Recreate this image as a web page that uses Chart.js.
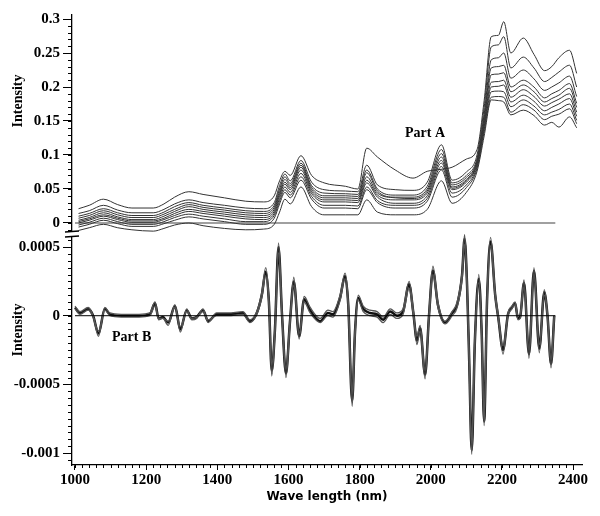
<!DOCTYPE html>
<html>
<head>
<meta charset="utf-8">
<script src="https://cdn.jsdelivr.net/npm/chart.js@4"></script>
<style>
  body { margin: 0; background: #fff; }
</style>
</head>
<body>
<canvas id="c" width="600" height="516"></canvas>
<script>
// tick positions
var xTicks = [1000, 1200, 1400, 1600, 1800, 2000, 2200, 2400];
var yATicks = [0, 0.05, 0.1, 0.15, 0.2, 0.25, 0.3];
var yBTicks = [-0.001, -0.0005, 0, 0.0005];

// Part A: raw spectra (10 samples)
var wlA = [1010,1040,1080,1120,1160,1220,1250,1280,1320,1360,
           1420,1480,1530,1560,1575,1590,1605,1635,1665,1700,
           1760,1795,1820,1850,1900,1950,1990,2030,2060,2100,
           2130,2150,2170,2190,2205,2225,2260,2290,2320,2340,
           2360,2390,2410];
var a1 = [.021,.026,.035,.027,.022,.022,.028,.038,.046,.042, .037,.032,.031,.040,.062,.076,.070,.099,.070,.059,
          .054,.050,.110,.097,.078,.066,.076,.079,.082,.094, .108,.180,.274,.276,.296,.250,.272,.248,.224,.230, .243,.254,.220];
var a2 = [.014,.018,.026,.019,.015,.015,.020,.028,.034,.030, .026,.022,.021,.030,.055,.072,.062,.092,.060,.049,
          .047,.046,.085,.056,.049,.048,.060,.115,.063,.075, .100,.170,.259,.262,.274,.228,.244,.228,.208,.214, .222,.232,.200];
var a3 = [.010,.014,.021,.015,.011,.011,.016,.024,.030,.026, .022,.018,.017,.026,.050,.068,.058,.088,.055,.044,
          .043,.042,.078,.050,.041,.041,.054,.108,.059,.070, .095,.160,.240,.243,.250,.213,.225,.212,.195,.200, .206,.216,.186];
var a4 = [.007,.011,.018,.012,.008,.008,.013,.020,.027,.023, .019,.015,.014,.023,.046,.064,.055,.085,.052,.040,
          .040,.039,.074,.047,.038,.038,.050,.102,.056,.067, .092,.155,.228,.230,.232,.200,.210,.200,.184,.190, .195,.205,.176];
var a5 = [.004,.008,.015,.009,.005,.005,.010,.017,.024,.020, .016,.012,.011,.020,.043,.060,.052,.082,.049,.037,
          .037,.036,.068,.044,.037,.036,.047,.097,.053,.064, .090,.150,.218,.219,.221,.193,.203,.193,.178,.183, .188,.198,.170];
var a6 = [.002,.006,.012,.007,.003,.003,.007,.014,.020,.017, .013,.009,.008,.017,.040,.057,.049,.078,.046,.034,
          .034,.033,.063,.041,.034,.034,.044,.092,.051,.062, .088,.146,.207,.208,.210,.185,.196,.186,.172,.177, .182,.190,.163];
var a7 = [.000,.004,.010,.005,.001,.001,.005,.011,.017,.014, .010,.006,.005,.014,.036,.053,.045,.073,.043,.031,
          .031,.030,.059,.038,.029,.029,.040,.088,.049,.060, .086,.142,.200,.201,.203,.178,.188,.179,.165,.170, .175,.183,.157];
var a8 = [-.003,.001,.007,.002,-.002,-.002,.002,.008,.013,.010, .006,.002,.002,.011,.032,.049,.041,.068,.039,.026,
          .026,.025,.053,.033,.026,.026,.036,.083,.044,.056, .083,.138,.193,.194,.193,.171,.181,.172,.159,.163, .167,.175,.151];
var a9 = [-.006,-.002,.004,-.001,-.005,-.005,-.001,.004,.009,.006, .002,-.002,-.002,.007,.028,.045,.037,.063,.035,.022,
          .022,.021,.049,.030,.022,.022,.032,.078,.038,.052, .080,.134,.185,.186,.185,.163,.174,.166,.152,.157, .160,.168,.146];
var a10 = [-.011,-.007,-.002,-.007,-.010,-.012,-.008,-.003,.000,-.004, -.008,-.010,-.009,-.002,.016,.035,.028,.053,.024,.012,
           .012,.012,.034,.016,.012,.012,.020,.062,.029,.045, .076,.128,.181,.180,.178,.159,.166,.158,.144,.148, .141,.156,.140];
var seriesA = [a1,a2,a3,a4,a5,a6,a7,a8,a9,a10];

// Part B: second derivative spectra
var wlB = [1000,1014,1037,1051,1066,1084,1098,1130,1180,1210,
           1225,1235,1247,1262,1281,1296,1314,1328,1342,1360,
           1374,1398,1430,1472,1492,1511,1525,1536,1545,1553,
           1562,1572,1582,1593,1604,1615,1630,1644,1661,1689,
           1711,1725,1745,1759,1768,1779,1787,1796,1810,1829,
           1849,1866,1886,1905,1922,1939,1951,1961,1970,1984,
           1995,2006,2020,2040,2060,2074,2088,2095,2102,2108,
           2115,2124,2135,2143,2150,2158,2168,2181,2190,2203,
           2217,2228,2237,2245,2251,2262,2276,2290,2305,2319,
           2328,2338,2347];
var b1 = [0.00006,0.00002,0.00005,0,-0.00013,0.00005,0.00001,0,0,0.00001,
          0.00009,-0.00002,-0.00001,-0.00005,0.00007,-0.0001,0.00004,-0.00002,-0.00001,0.00004,
          -0.00004,0.00001,0.00001,0.00002,-0.00004,0.00002,0.00015,0.00032,0.0001,-0.0004,
          -0.0001,0.0005,0,-0.00042,-0.00005,0.00025,-0.00015,0.00012,0.00004,-0.00004,
          0.00002,0.00001,0.00013,0.00029,0.00008,-0.00062,-0.00012,0.00013,0.00005,0.00002,
          0.00001,-0.00003,0.00003,0,0.00003,0.00023,0.00002,-0.00018,-0.00009,-0.00043,
          0,0.00033,0.00008,-0.00005,0.00002,0.00008,0.0003,0.00056,0.00022,-0.00033,
          -0.00098,-0.00018,0.00027,-0.00012,-0.00077,0.0001,0.00054,0.00015,-0.00002,-0.00025,
          0.00001,0.00006,0.00009,-0.00002,-0.00001,0.00024,-0.00028,0.00033,-0.00024,0.00017,
          0,-0.00035,0];
var b2 = [0.00007,0.00003,0.00006,0,-0.00015,0.00006,0.00002,0.00001,0.00001,0.00002,
          0.0001,-0.00003,-0.00002,-0.00007,0.00008,-0.00012,0.00005,-0.00003,-0.00002,0.00005,
          -0.00005,0.00002,0.00002,0.00003,-0.00003,0.00003,0.00017,0.00035,0.00012,-0.00044,
          -0.00012,0.00053,0.00002,-0.00045,-0.00007,0.00028,-0.00017,0.00014,0.00006,-0.00002,
          0.00004,0.00003,0.00015,0.00031,0.0001,-0.00066,-0.00015,0.00015,0.00007,0.00004,
          0.00003,-0.00001,0.00005,0.00002,0.00005,0.00025,0.00004,-0.00021,-0.00011,-0.00046,
          0.00002,0.00036,0.0001,-0.00004,0.00003,0.0001,0.00032,0.00059,0.00025,-0.00036,
          -0.00101,-0.00021,0.0003,-0.00015,-0.0008,0.00012,0.00057,0.00017,0,-0.00028,
          0.00002,0.00007,0.0001,0,0.00001,0.00026,-0.00031,0.00035,-0.00027,0.00019,
          0.00001,-0.00038,0];
var b3 = [0.00005,0.00001,0.00004,-0.00001,-0.00011,0.00004,0,-0.00001,-0.00001,0,
          0.00007,-0.00002,-0.00002,-0.00004,0.00006,-0.00008,0.00003,-0.00002,-0.00001,0.00003,
          -0.00003,0,0,0.00001,-0.00005,0.00001,0.00013,0.00029,0.00008,-0.00036,
          -0.00009,0.00046,-0.00002,-0.00039,-0.00004,0.00022,-0.00013,0.0001,0.00002,-0.00005,
          0,-0.00001,0.00011,0.00027,0.00006,-0.00057,-0.0001,0.00011,0.00003,0,
          -0.00001,-0.00005,0.00001,-0.00002,0.00001,0.0002,0,-0.00015,-0.00007,-0.0004,
          -0.00002,0.0003,0.00006,-0.00006,0,0.00006,0.00027,0.00052,0.00019,-0.0003,
          -0.00093,-0.00015,0.00024,-0.0001,-0.00073,0.00008,0.00051,0.00013,-0.00003,-0.00022,
          0,0.00005,0.00008,-0.00003,-0.00002,0.00021,-0.00025,0.0003,-0.00021,0.00015,
          -0.00001,-0.00032,0];

var baseline = [1000, 2350];

function pts(xs, ys) {
  return xs.map(function (x, i) { return {x: x, y: ys[i]}; });
}
function fixTicks(list) {
  return function (s) { s.ticks = list.map(function (v) { return {value: v}; }); };
}

var datasets = [];
seriesA.forEach(function (s) {
  datasets.push({data: pts(wlA, s), yAxisID: 'yA', borderColor: '#333', borderWidth: 1});
});
datasets.push({data: pts(baseline, [0, 0]), yAxisID: 'yA', borderColor: '#808080', borderWidth: 1.5});
datasets.push({data: pts(wlB, b2), yAxisID: 'yB', borderColor: '#555', borderWidth: 1.3});
datasets.push({data: pts(wlB, b3), yAxisID: 'yB', borderColor: '#555', borderWidth: 1.3});
datasets.push({data: pts(wlB, b1), yAxisID: 'yB', borderColor: '#111', borderWidth: 2.5});
datasets.push({data: pts(baseline, [0, 0]), yAxisID: 'yB', borderColor: '#000', borderWidth: 1, order: -1});

var tickFont = {family: 'Liberation Serif', weight: 'bold', size: 15};

var extras = {
  id: 'extras',
  afterDraw: function (chart) {
    var c = chart.ctx;
    var x = chart.scales.x, ya = chart.scales.yA, yb = chart.scales.yB;
    var ax = ya.right;
    c.save();
    c.strokeStyle = '#000';
    c.lineWidth = 1;
    // minor ticks
    var i, p;
    for (i = 0; i <= 70; i++) {
      p = Math.round(x.getPixelForValue(1000 + i * 20)) + 0.5;
      c.beginPath(); c.moveTo(p, x.top); c.lineTo(p, x.top + 3); c.stroke();
    }
    for (i = -1; i <= 30; i++) {
      p = Math.round(ya.getPixelForValue(i * 0.01)) + 0.5;
      c.beginPath(); c.moveTo(ax - 4, p); c.lineTo(ax, p); c.stroke();
    }
    for (i = -21; i <= 11; i++) {
      p = Math.round(yb.getPixelForValue(i * 0.00005)) + 0.5;
      c.beginPath(); c.moveTo(ax - 4, p); c.lineTo(ax, p); c.stroke();
    }
    // axis break
    var b = ya.bottom;
    c.fillStyle = '#fff';
    c.fillRect(ax - 3, b - 2, 6, 5);
    c.lineWidth = 1.3;
    c.beginPath();
    c.moveTo(ax - 7, b - 2); c.lineTo(ax + 7, b - 3);
    c.moveTo(ax - 7, b + 3); c.lineTo(ax + 7, b + 2);
    c.stroke();
    // texts
    c.fillStyle = '#000';
    c.font = 'bold 14px "Liberation Serif"';
    c.textBaseline = 'middle';
    c.textAlign = 'left';
    c.fillText('Part A', 405, 133);
    c.fillText('Part B', 112, 337);
    c.textAlign = 'center';
    c.translate(18, 101);
    c.rotate(-Math.PI / 2);
    c.fillText('Intensity', 0, 0);
    c.rotate(Math.PI / 2);
    c.translate(0, 229);
    c.rotate(-Math.PI / 2);
    c.fillText('Intensity', 0, 0);
    c.restore();
  }
};

new Chart(document.getElementById('c'), {
  type: 'line',
  data: {datasets: datasets},
  options: {
    responsive: false,
    animation: false,
    layout: {padding: {top: 15, right: 18, left: 0, bottom: 0}},
    plugins: {legend: {display: false}, tooltip: {enabled: false}},
    elements: {
      point: {radius: 0},
      line: {cubicInterpolationMode: 'monotone', fill: false}
    },
    scales: {
      x: {
        type: 'linear', position: 'bottom', min: 991.6, max: 2425,
        afterBuildTicks: fixTicks(xTicks),
        ticks: {autoSkip: false, color: '#000', font: tickFont, padding: 1, maxRotation: 0,
                callback: function (v) { return String(v); }},
        grid: {drawOnChartArea: false, tickLength: 5, tickColor: '#000'},
        border: {color: '#000', width: 1.3},
        title: {display: true, text: 'Wave length (nm)', color: '#000',
                font: {family: 'DejaVu Sans', weight: 'bold', size: 12}, padding: {top: 0, bottom: 12}},
        afterFit: function (s) { s.height = 51; }
      },
      yA: {
        type: 'linear', position: 'left', stack: 'panels', stackWeight: 219, weight: 2,
        min: -0.0162, max: 0.3059,
        afterBuildTicks: fixTicks(yATicks),
        ticks: {autoSkip: false, color: '#000', font: tickFont, padding: 3,
                callback: function (v) { return String(+v.toFixed(3)); }},
        grid: {drawOnChartArea: false, tickLength: 9, tickColor: '#000'},
        border: {color: '#000', width: 1.3},
        afterFit: function (s) { s.width = 72; }
      },
      yB: {
        type: 'linear', position: 'left', stack: 'panels', stackWeight: 231, weight: 1,
        min: -0.001087, max: 0.000595,
        afterBuildTicks: fixTicks(yBTicks),
        ticks: {autoSkip: false, color: '#000', font: tickFont, padding: 3,
                callback: function (v) { return String(+v.toFixed(5)); }},
        grid: {drawOnChartArea: false, tickLength: 9, tickColor: '#000'},
        border: {color: '#000', width: 1.3},
        afterFit: function (s) { s.width = 72; }
      }
    }
  },
  plugins: [extras]
});
</script>
</body>
</html>
